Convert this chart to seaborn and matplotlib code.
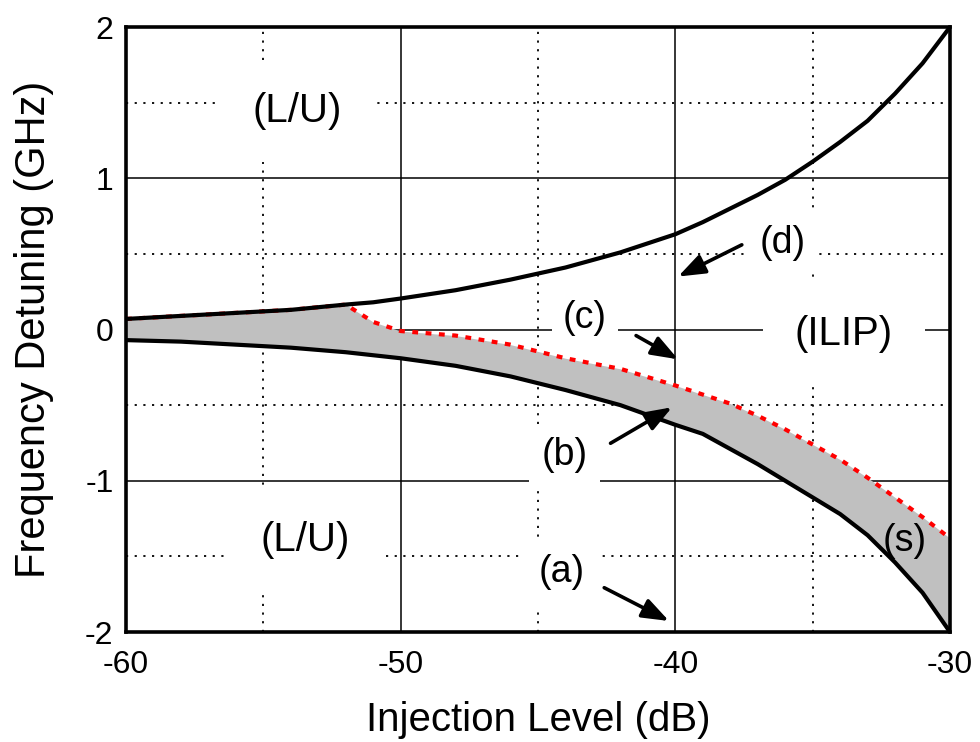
import matplotlib
matplotlib.use("Agg")
import matplotlib.pyplot as plt
import numpy as np
import pandas as pd
import seaborn as sns

# Injection level (dB) sample points shared by all boundaries
injection_db = [-60, -58, -56, -54, -52, -51, -50, -48, -46, -44, -42, -40,
                -39, -38, -37, -36, -35, -34, -33, -32, -31, -30]

# (d) upper locking boundary (GHz)
upper_d = [0.07, 0.09, 0.11, 0.13, 0.165, 0.18, 0.205, 0.26, 0.33, 0.41, 0.51, 0.63,
           0.71, 0.80, 0.89, 0.99, 1.11, 1.24, 1.38, 1.56, 1.76, 2.00]

# (c) stability boundary (GHz), red dotted
boundary_c = [0.07, 0.09, 0.11, 0.13, 0.165, 0.05, -0.01, -0.04, -0.10, -0.19, -0.26, -0.37,
              -0.43, -0.49, -0.57, -0.66, -0.76, -0.86, -0.98, -1.11, -1.24, -1.38]

# (a)/(b) lower locking boundary (GHz)
lower_a = [-0.07, -0.08, -0.10, -0.12, -0.15, -0.17, -0.19, -0.24, -0.31, -0.40, -0.50, -0.63,
           -0.69, -0.79, -0.89, -1.00, -1.11, -1.22, -1.36, -1.54, -1.74, -2.00]

x_ticks = [-60, -50, -40, -30]
y_ticks = [-2, -1, 0, 1, 2]

region_labels = ["(L/U)", "(L/U)", "(ILIP)"]
region_x = [-53.76, -53.48, -33.86]
region_y = [1.445, -1.39, -0.03]

curve_labels = ["(d)", "(c)", "(b)", "(a)"]
curve_label_x = [-36.1, -43.29, -44.02, -44.13]
curve_label_y = [0.57, 0.076, -0.83, -1.60]
curve_label_pad = [0.35, 0.3, 0.33, 0.45]
arrow_tail_x = [-37.58, -41.43, -42.36, -42.59]
arrow_tail_y = [0.56, -0.04, -0.752, -1.707]
arrow_head_x = [-39.90, -39.90, -40.12, -40.23]
arrow_head_y = [0.35, -0.197, -0.514, -1.927]

df = pd.DataFrame({"inj": injection_db, "upper": upper_d,
                   "stab": boundary_c, "lower": lower_a})

sns.set_theme(style="white")
plt.rcParams["font.family"] = ["Liberation Sans", "DejaVu Sans"]
plt.rcParams["axes.unicode_minus"] = False
plt.rcParams["text.color"] = "black"
plt.rcParams["axes.labelcolor"] = "black"
plt.rcParams["xtick.color"] = "black"
plt.rcParams["ytick.color"] = "black"

fig = plt.figure(figsize=(9.8, 7.42), dpi=100)
ax = fig.add_axes([0.1286, 0.1482, 0.8408, 0.8154])

# stable injection-locked region
ax.fill_between(df["inj"], df["lower"], df["stab"], color="#c0c0c0", lw=0, zorder=1.5)

sns.lineplot(data=df, x="inj", y="lower", ax=ax, color="black", lw=3, zorder=2)
sns.lineplot(data=df, x="inj", y="stab", ax=ax, color="red", lw=3.0, zorder=2.1)
ax.get_lines()[-1].set_linestyle((0, (1.4, 1.8)))
sns.lineplot(data=df, x="inj", y="upper", ax=ax, color="black", lw=3, zorder=2.2)

ax.set_xlim(-60, -30)
ax.set_ylim(-2, 2)
ax.set_xticks(x_ticks)
ax.set_xticklabels([str(v) for v in x_ticks])
ax.set_yticks(y_ticks)
ax.set_yticklabels([str(v) for v in y_ticks])
ax.set_xticks([-55, -45, -35], minor=True)
ax.set_yticks([-1.5, -0.5, 0.5, 1.5], minor=True)

ax.set_axisbelow(True)
ax.grid(which="major", color="black", lw=1.1, ls="-")
ax.grid(which="minor", color="black", lw=1.3, ls=(0, (1.2, 3.6)))

ax.tick_params(which="both", length=0, labelsize=23, colors="black")
ax.tick_params(axis="x", pad=13)
ax.tick_params(axis="y", pad=9)

for s in ax.spines.values():
    s.set_visible(True)
    s.set_color("black")
    s.set_linewidth(2.6)

ax.set_xlabel("Injection Level (dB)", fontsize=29, labelpad=15, color="black")
ax.set_ylabel("Frequency Detuning (GHz)", fontsize=30, labelpad=22, color="black")

for txt, tx, ty in zip(region_labels, region_x, region_y):
    ax.text(tx, ty, txt, fontsize=29, ha="center", va="center", zorder=3,
            bbox=dict(boxstyle="square,pad=0.8", fc="white", ec="none"))

for txt, tx, ty, pd_, x0, y0, x1, y1 in zip(curve_labels, curve_label_x, curve_label_y,
                                             curve_label_pad, arrow_tail_x, arrow_tail_y,
                                             arrow_head_x, arrow_head_y):
    ax.text(tx, ty, txt, fontsize=27, ha="center", va="center", zorder=3,
            bbox=dict(boxstyle=f"square,pad={pd_}", fc="white", ec="none"))
    ax.annotate("", xy=(x1, y1), xytext=(x0, y0), zorder=4,
                arrowprops=dict(arrowstyle="-|>,head_length=0.65,head_width=0.24",
                                mutation_scale=25, color="black", lw=2.6,
                                shrinkA=0, shrinkB=0))

ax.text(-31.64, -1.40, "(s)", fontsize=27, ha="center", va="center", zorder=3)

fig.savefig("out.png", dpi=100)
